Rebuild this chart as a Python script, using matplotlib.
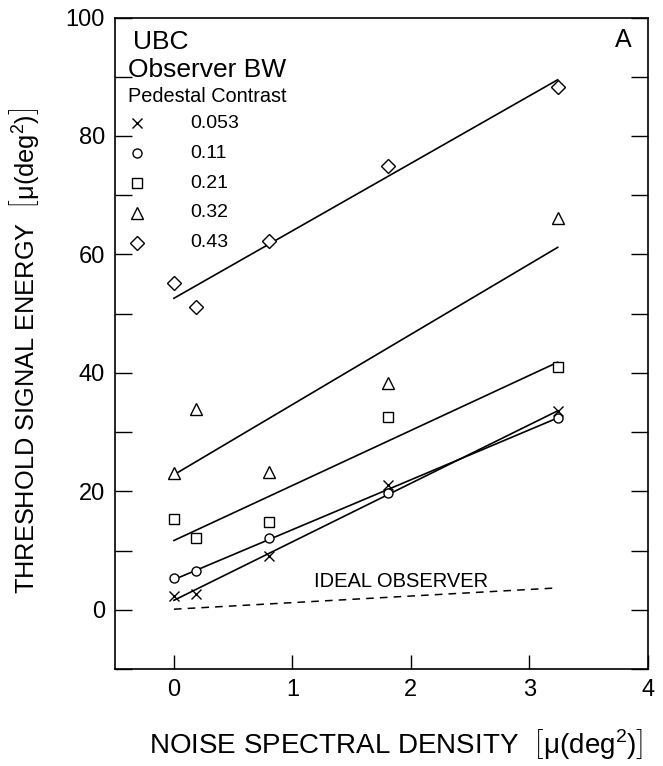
import numpy as np
import matplotlib
matplotlib.use('Agg')
import matplotlib.pyplot as plt

plt.rcParams['font.family'] = ['Liberation Sans', 'DejaVu Sans']
plt.rcParams['mathtext.fontset'] = 'custom'
plt.rcParams['mathtext.rm'] = 'Liberation Sans'
plt.rcParams['mathtext.it'] = 'Liberation Sans'

# noise spectral density at which thresholds were measured
noise = [0.0, 0.19, 0.80, 1.81, 3.24]

# pedestal contrasts and their markers
contrasts = ['0.053', '0.11', '0.21', '0.32', '0.43']
markers = ['x', 'o', 's', '^', 'D']
msizes = [7.0, 6.5, 6.5, 8.0, 6.8]

# threshold signal energy, one list per pedestal contrast
e_053 = [2.4, 2.7, 9.0, 21.0, 33.6]
e_11 = [5.4, 6.6, 12.2, 19.7, 32.3]
e_21 = [15.4, 12.1, 14.8, 32.6, 41.0]
e_32 = [23.1, 33.9, 23.2, 38.3, 66.1]
e_43 = [55.1, 51.1, 62.2, 74.9, 88.3]
energies = [e_053, e_11, e_21, e_32, e_43]

# straight line fits: value at N=0 and at the last noise level
fit_start = [1.6, 5.1, 11.7, 22.8, 52.6]
fit_end = [33.6, 32.4, 41.8, 61.2, 89.5]

# ideal observer
ideal_start = 0.1
ideal_end = 3.7

fig = plt.figure(figsize=(6.63, 7.66), dpi=100)
ax = fig.add_axes([0.173, 0.1266, 0.804, 0.8505])

x_fit = [noise[0], noise[-1]]
for i in range(len(contrasts)):
    ax.plot(x_fit, [fit_start[i], fit_end[i]], color='k', lw=1.2, zorder=2)
    ax.plot(noise, energies[i], linestyle='none', marker=markers[i],
            ms=msizes[i], mfc='white', mec='k', mew=1.0, zorder=3)

ax.plot(x_fit, [ideal_start, ideal_end], color='k', lw=1.1,
        dashes=(5, 4), zorder=2)
ax.text(1.18, 4.8, 'IDEAL OBSERVER', fontsize=14.5, va='center', ha='left')

# key in the upper left corner
ax.text(0.034, 0.962, 'UBC', transform=ax.transAxes, fontsize=19,
        va='center', ha='left')
ax.text(0.025, 0.919, 'Observer BW', transform=ax.transAxes, fontsize=19,
        va='center', ha='left')
ax.text(0.025, 0.879, 'Pedestal Contrast', transform=ax.transAxes,
        fontsize=14.3, va='center', ha='left')
rows = [0.838, 0.792, 0.746, 0.700, 0.654]
for i in range(len(contrasts)):
    ax.plot(0.0413, rows[i], transform=ax.transAxes, marker=markers[i],
            ms=msizes[i], mfc='white', mec='k', mew=1.0, clip_on=False)
    ax.text(0.141, rows[i], contrasts[i], transform=ax.transAxes,
            fontsize=14, va='center', ha='left')

ax.text(0.954, 0.966, 'A', transform=ax.transAxes, fontsize=18,
        va='center', ha='center')

ax.set_xlim(-0.5, 4)
ax.set_ylim(-10, 100)
ax.set_xticks([0, 1, 2, 3, 4])
ax.set_yticks(np.arange(-10, 101, 10))
ax.set_yticklabels(['' if v % 20 else str(v) for v in range(-10, 101, 10)])
ax.tick_params(axis='both', direction='in', labelsize=17, width=1.0,
               pad=7, length=10)
ax.tick_params(axis='y', right=True, length=12)
for sp in ax.spines.values():
    sp.set_linewidth(1.2)

fig.text(0.598, 0.029,
         r'NOISE SPECTRAL DENSITY  $\left[\mathrm{μ(deg}^{2}\mathrm{)}\right]$',
         fontsize=20, ha='center', va='center')
fig.text(0.036, 0.542,
         r'THRESHOLD SIGNAL ENERGY  $\left[\mathrm{μ(deg}^{2}\mathrm{)}\right]$',
         fontsize=18.3, ha='center', va='center', rotation=90)

fig.savefig('out.png', dpi=100)
